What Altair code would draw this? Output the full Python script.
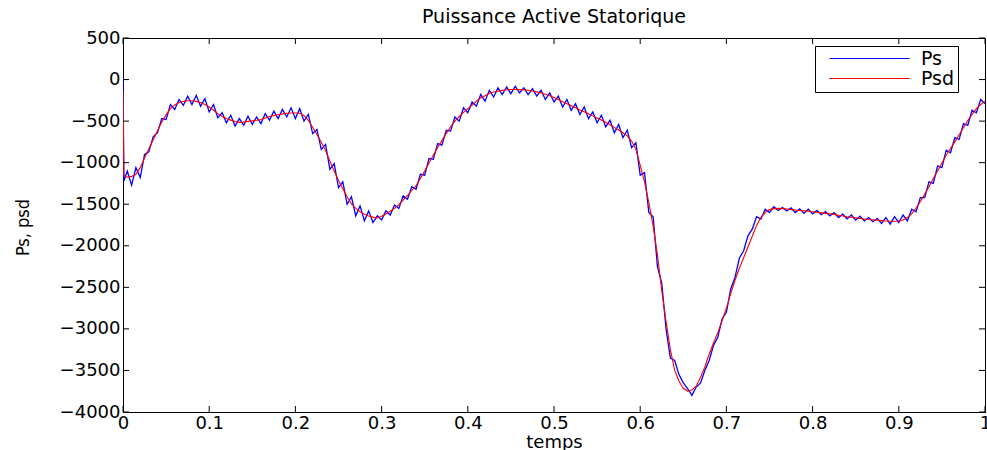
import altair as alt
import pandas as pd

# ---- data ----
t_start = [0.0, 0.001]
ps_start = [30, -1220]
psd_start = [-150, -1150]
t_step = 0.005  # sampling of the remaining points (0.005 .. 1.000)

ps_vals = [
    -1100, -1270, -1060, -1180, -900, -870, -690, -640, -470, -480,
    -300, -360, -240, -310, -200, -300, -190, -320, -230, -390,
    -300, -460, -400, -520, -430, -560, -470, -550, -440, -540,
    -450, -530, -410, -490, -380, -470, -360, -450, -340, -470,
    -350, -500, -420, -650, -600, -840, -780, -1080, -1010, -1300,
    -1230, -1500, -1410, -1640, -1520, -1700, -1580, -1720, -1640, -1690,
    -1580, -1630, -1510, -1550, -1400, -1440, -1290, -1320, -1140, -1150,
    -950, -960, -770, -790, -610, -620, -450, -500, -340, -400,
    -270, -320, -180, -260, -130, -210, -100, -180, -90, -170,
    -80, -160, -100, -180, -110, -200, -130, -240, -160, -270,
    -200, -330, -240, -370, -290, -420, -330, -470, -390, -520,
    -430, -570, -490, -640, -540, -700, -610, -820, -760, -1150,
    -1120, -1600, -1650, -2250, -2450, -3000, -3350, -3380, -3550, -3650,
    -3720, -3800, -3700, -3650, -3500, -3380, -3200, -3100, -2880, -2800,
    -2520, -2380, -2150, -2060, -1880, -1800, -1650, -1680, -1560, -1600,
    -1530, -1575, -1540, -1580, -1545, -1600, -1555, -1610, -1560, -1615,
    -1575, -1625, -1590, -1640, -1600, -1660, -1620, -1675, -1630, -1690,
    -1645, -1700, -1660, -1710, -1670, -1730, -1660, -1740, -1650, -1720,
    -1630, -1700, -1560, -1590, -1420, -1420, -1230, -1250, -1040, -1060,
    -850, -880, -700, -720, -530, -550, -370, -400, -240, -290,
]

psd_vals = [
    -1175, -1165, -1140, -1060, -945, -835, -725, -615, -510, -425,
    -350, -305, -277, -262, -255, -255, -263, -276, -300, -330,
    -370, -410, -445, -468, -488, -505, -515, -512, -503, -497,
    -490, -480, -463, -445, -433, -423, -413, -405, -402, -402,
    -405, -435, -490, -574, -660, -755, -855, -980, -1100, -1215,
    -1315, -1410, -1495, -1550, -1590, -1620, -1642, -1655, -1665, -1645,
    -1617, -1584, -1550, -1505, -1450, -1395, -1335, -1276, -1190, -1100,
    -1005, -910, -820, -735, -650, -570, -500, -445, -395, -350,
    -310, -260, -220, -195, -165, -150, -140, -130, -122, -120,
    -120, -121, -123, -128, -138, -148, -160, -178, -195, -215,
    -240, -268, -290, -315, -340, -365, -388, -412, -437, -462,
    -488, -513, -543, -575, -606, -640, -678, -740, -840, -1030,
    -1230, -1480, -1760, -2110, -2540, -2910, -3250, -3500, -3630, -3715,
    -3748, -3735, -3690, -3582, -3458, -3305, -3170, -3045, -2900, -2750,
    -2575, -2415, -2270, -2145, -2015, -1885, -1755, -1660, -1600, -1565,
    -1553, -1550, -1553, -1557, -1565, -1570, -1575, -1580, -1585, -1590,
    -1597, -1604, -1610, -1615, -1622, -1632, -1641, -1650, -1657, -1663,
    -1670, -1677, -1683, -1687, -1692, -1697, -1702, -1705, -1705, -1702,
    -1690, -1660, -1617, -1545, -1470, -1380, -1290, -1190, -1100, -1005,
    -910, -830, -750, -665, -580, -493, -420, -350, -300, -260,
]

x_ticks = [0, 0.1, 0.2, 0.3, 0.4, 0.5, 0.6, 0.7, 0.8, 0.9, 1]
y_ticks = [-4000, -3500, -3000, -2500, -2000, -1500, -1000, -500, 0, 500]
series = ["Ps", "Psd"]

# ---- tables ----
t = t_start + [round(t_step * k, 3) for k in range(1, len(ps_vals) + 1)]
df = pd.DataFrame({
    "temps": t + t,
    "val": ps_start + ps_vals + psd_start + psd_vals,
    "serie": [series[0]] * len(t) + [series[1]] * len(t),
})
xt = pd.DataFrame({"v": x_ticks})
yt = pd.DataFrame({"v": y_ticks})

W, H = 862, 374
FONT = "DejaVu Sans"
NARROW = "Liberation Sans Narrow, DejaVu Sans Condensed, Liberation Sans"

xs = alt.Scale(domain=[0, 1], nice=False, zero=False)
ys = alt.Scale(domain=[-4000, 500], nice=False, zero=False)

color = alt.Color(
    "serie:N",
    scale=alt.Scale(domain=series, range=["#0000ff", "#ff0000"]),
    legend=alt.Legend(
        title=None, orient="none", legendX=692, legendY=8,
        symbolType="M-1,0H9", symbolSize=256, symbolStrokeWidth=1.2,
        symbolOffset=10, labelOffset=74,
        labelFont=FONT, labelFontSize=19, labelColor="black",
        strokeColor="black", fillColor="white", padding=3, rowPadding=0,
    ),
)

common = dict(
    labelFont=FONT, labelFontSize=18, labelColor="black", labelFlush=False,
    labelOverlap=False,
    titleFont=FONT, titleFontSize=18, titleFontWeight="normal", titleColor="black",
    domainColor="black", domainWidth=1, tickSize=0, grid=False,
)
x_axis = alt.Axis(
    values=x_ticks, labelExpr="'' + datum.value", title="temps",
    labelBaseline="alphabetic", labelPadding=16,
    titleBaseline="alphabetic", titleY=35, **common,
)
y_axis = alt.Axis(
    values=y_ticks, format="d", title="Ps, psd", labelPadding=3,
    titleAngle=270, titleBaseline="alphabetic",
    titleX=-95, titleY=189, titleAlign="center",
    **{**common, "titleFont": NARROW},
)

x_enc = alt.X("temps:Q", scale=xs, axis=x_axis)
y_enc = alt.Y("val:Q", scale=ys, axis=y_axis)

ps_line = alt.Chart(df).transform_filter(alt.datum.serie == "Ps").mark_line(
    strokeWidth=1.3, clip=True
).encode(x=x_enc, y=y_enc, color=color)

psd_line = alt.Chart(df).transform_filter(alt.datum.serie == "Psd").mark_line(
    strokeWidth=1.1, clip=True
).encode(x=x_enc, y=y_enc, color=color)

tick_top = alt.Chart(xt).mark_rule(color="black", strokeWidth=1).encode(
    x=alt.X("v:Q", scale=xs, axis=x_axis), y=alt.value(0), y2=alt.value(6))
tick_bot = alt.Chart(xt).mark_rule(color="black", strokeWidth=1).encode(
    x=alt.X("v:Q", scale=xs, axis=x_axis), y=alt.value(H), y2=alt.value(H - 6))
tick_left = alt.Chart(yt).mark_rule(color="black", strokeWidth=1).encode(
    y=alt.Y("v:Q", scale=ys, axis=y_axis), x=alt.value(0), x2=alt.value(6))
tick_right = alt.Chart(yt).mark_rule(color="black", strokeWidth=1).encode(
    y=alt.Y("v:Q", scale=ys, axis=y_axis), x=alt.value(W - 6), x2=alt.value(W))

chart = alt.layer(
    ps_line, psd_line, tick_top, tick_bot, tick_left, tick_right
).properties(
    width=W, height=H,
    background="white",
    title=alt.TitleParams(
        "Puissance Active Statorique", font=FONT, fontSize=19,
        fontWeight="normal", color="black", anchor="middle", offset=2,
    ),
    autosize=alt.AutoSizeParams(type="none"),
    padding={"left": 123, "top": 38, "right": 2, "bottom": 38},
).configure_view(
    stroke="black", strokeWidth=1
)

chart.save("out.html", embed_options={"renderer": "svg", "actions": False})
